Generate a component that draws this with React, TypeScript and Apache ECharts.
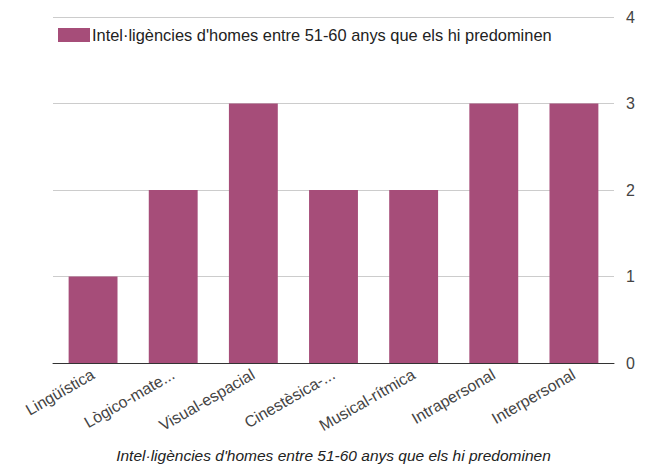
import React, { useEffect, useRef } from "react";
import * as echarts from "echarts";

const categories = [
  "Lingüística",
  "Lògico-mate...",
  "Visual-espacial",
  "Cinestèsica-...",
  "Musical-rítmica",
  "Intrapersonal",
  "Interpersonal",
];
const values = [1, 2, 3, 2, 2, 3, 3];
const seriesName = "Intel·ligències d'homes entre 51-60 anys que els hi predominen";
const axisTitle = "Intel·ligències d'homes entre 51-60 anys que els hi predominen";

const FONT = "Arial, 'Liberation Sans', sans-serif";

export default function App() {
  const ref = useRef<HTMLDivElement>(null);
  useEffect(() => {
    if (!ref.current) return;
    const chart = echarts.init(ref.current, undefined, { renderer: "svg" });
    chart.setOption({
      animation: false,
      backgroundColor: "#ffffff",
      textStyle: { fontFamily: FONT },
      legend: {
        left: 53,
        top: 22,
        itemWidth: 32,
        itemHeight: 14,
        itemGap: 10,
        icon: "rect",
        textStyle: { fontSize: 16.4, color: "#222", fontFamily: FONT, padding: [0, 0, 0, -3] },
        data: [seriesName],
      },
      grid: { left: 53, width: 561, top: 17, height: 347, containLabel: false },
      xAxis: {
        type: "category",
        data: categories,
        axisLine: { lineStyle: { color: "#333", width: 1 } },
        axisTick: { show: false },
        axisLabel: {
          rotate: 30,
          interval: 0,
          margin: 10,
          fontSize: 16,
          color: "#444",
          fontFamily: FONT,
        },
        name: axisTitle,
        nameLocation: "middle",
        nameGap: 84,
        nameTextStyle: {
          fontSize: 15.5,
          fontStyle: "italic",
          color: "#222",
          fontFamily: FONT,
        },
      },
      yAxis: {
        type: "value",
        position: "right",
        min: 0,
        max: 4,
        interval: 1,
        axisLine: { show: false },
        axisTick: { show: false },
        axisLabel: { margin: 12, fontSize: 16, color: "#444", fontFamily: FONT },
        splitLine: { lineStyle: { color: "#cccccc", width: 1 } },
      },
      series: [
        {
          name: seriesName,
          type: "bar",
          data: values,
          barCategoryGap: "39%",
          itemStyle: { color: "#a64d79" },
        },
      ],
    });
    return () => chart.dispose();
  }, []);
  return (
    <div
      ref={ref}
      style={{ position: "fixed", left: 0, top: 0, width: 660, height: 468 }}
    />
  );
}
